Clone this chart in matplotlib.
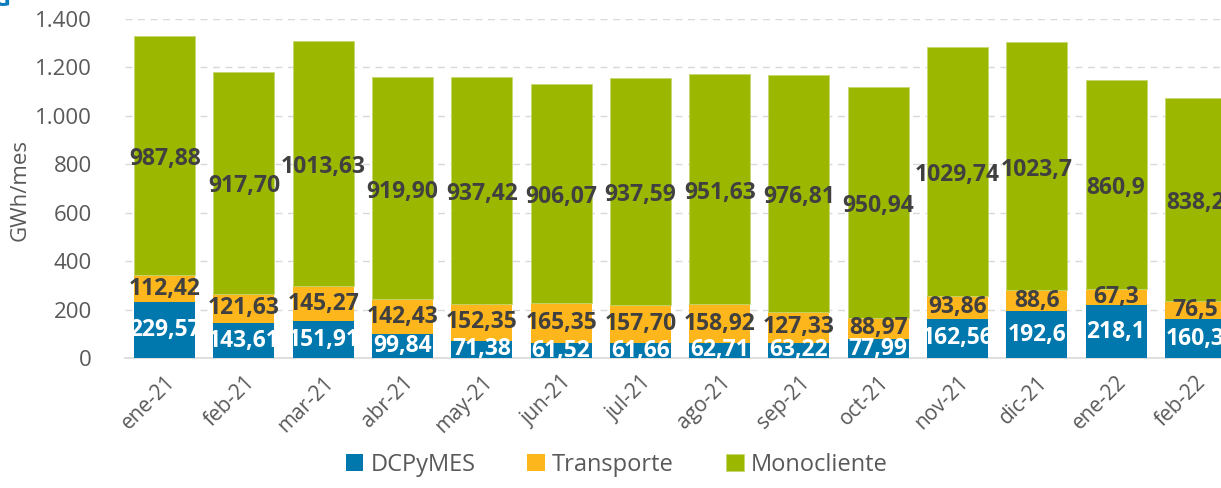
import numpy as np
import matplotlib.pyplot as plt
from matplotlib.ticker import FuncFormatter

# Datos
meses = ['ene-21', 'feb-21', 'mar-21', 'abr-21', 'may-21', 'jun-21', 'jul-21',
         'ago-21', 'sep-21', 'oct-21', 'nov-21', 'dic-21', 'ene-22', 'feb-22']
dcpymes = [229.57, 143.61, 151.91, 99.84, 71.38, 61.52, 61.66,
           62.71, 63.22, 77.99, 162.56, 192.6, 218.1, 160.3]
transporte = [112.42, 121.63, 145.27, 142.43, 152.35, 165.35, 157.70,
              158.92, 127.33, 88.97, 93.86, 88.6, 67.3, 76.5]
monocliente = [987.88, 917.70, 1013.63, 919.90, 937.42, 906.07, 937.59,
               951.63, 976.81, 950.94, 1029.74, 1023.7, 860.9, 838.2]
lab_dcpymes = ['229,57', '143,61', '151,91', '99,84', '71,38', '61,52', '61,66',
               '62,71', '63,22', '77,99', '162,56', '192,6', '218,1', '160,3']
lab_transporte = ['112,42', '121,63', '145,27', '142,43', '152,35', '165,35', '157,70',
                  '158,92', '127,33', '88,97', '93,86', '88,6', '67,3', '76,5']
lab_mono = ['987,88', '917,70', '1013,63', '919,90', '937,42', '906,07', '937,59',
            '951,63', '976,81', '950,94', '1029,74', '1023,7', '860,9', '838,2']

azul = '#0078ae'
naranja = '#fdb71c'
verde = '#9bb700'
gris = '#595959'
oscuro = '#404040'

plt.rcParams['font.family'] = ['Open Sans', 'DejaVu Sans']

fig = plt.figure(figsize=(12.21, 4.88), dpi=100)
# el gráfico original está recortado a la derecha
ax = fig.add_axes([125 / 1221, 1 - 358 / 488, 1110 / 1221, 339 / 488])

x = np.arange(len(meses))
d = np.array(dcpymes)
t = np.array(transporte)
m = np.array(monocliente)
w = 0.77

ax.bar(x, d, w, color=azul, label='DCPyMES', zorder=3)
ax.bar(x, t, w, bottom=d, color=naranja, label='Transporte', zorder=3)
ax.bar(x, m, w, bottom=d + t, color=verde, edgecolor='#c5d870', linewidth=0.6,
       label='Monocliente', zorder=3)

fs = 16.5
for i in range(len(meses)):
    ax.text(x[i], d[i] / 2, lab_dcpymes[i], ha='center', va='center',
            color='white', fontsize=fs, fontweight='bold', zorder=4)
    ax.text(x[i], d[i] + t[i] / 2, lab_transporte[i], ha='center', va='center',
            color=oscuro, fontsize=fs, fontweight='bold', zorder=4)
    ax.text(x[i], d[i] + t[i] + m[i] / 2 - 15, lab_mono[i], ha='center', va='center',
            color=oscuro, fontsize=fs, fontweight='bold', zorder=4)

ax.set_xlim(-0.5, len(meses) - 0.5)
ax.set_ylim(0, 1400)
ax.set_yticks(np.arange(0, 1401, 200))
ax.yaxis.set_major_formatter(FuncFormatter(lambda v, p: f'{int(v):,}'.replace(',', '.')))
ax.grid(axis='y', color='#d9d9d9', linestyle=(0, (5, 4)), linewidth=1, zorder=0)
for s in ['top', 'right', 'left']:
    ax.spines[s].set_visible(False)
ax.spines['bottom'].set_color('#d9d9d9')
ax.spines['bottom'].set_linewidth(1.2)
ax.tick_params(axis='y', length=0, pad=24, labelsize=16, labelcolor=gris)
ax.tick_params(axis='x', length=0, pad=10, labelsize=15, labelcolor=gris)
ax.set_xticks(x)
ax.set_xticklabels(meses, rotation=45, ha='right', rotation_mode='anchor')

fig.text(20 / 1221, 1 - 190 / 488, 'GWh/mes', rotation=90, ha='center', va='center',
         fontsize=16, color=gris)
# resto del título cortado
fig.text(-0.006, 1.0, 'G', ha='left', va='center', fontsize=18, color='#0a7bbd',
         fontweight='bold')

fig.legend(loc='lower center', bbox_to_anchor=(0.505, -0.02), ncol=3, frameon=False,
           fontsize=17, labelcolor=gris, handlelength=0.75, handleheight=0.75,
           handletextpad=0.3, columnspacing=2.2)

plt.savefig('out.png', dpi=100)
